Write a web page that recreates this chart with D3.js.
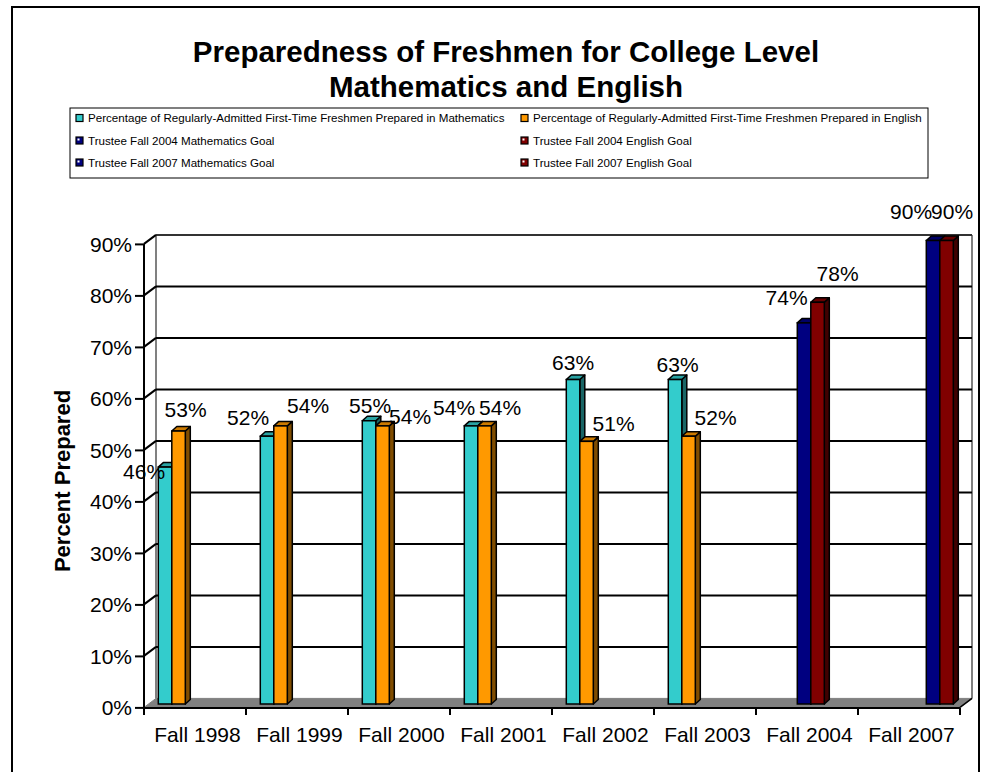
<!DOCTYPE html>
<html>
<head>
<meta charset="utf-8">
<script src="https://cdn.jsdelivr.net/npm/d3@7"></script>
<style>
  html, body { margin: 0; padding: 0; background: #fff; }
  svg { display: block; font-family: "Liberation Sans", Arial, sans-serif; }
</style>
</head>
<body>
<svg id="chart" width="984" height="772"></svg>
<script>
// ---------------- DATA ----------------
const categories = ["Fall 1998", "Fall 1999", "Fall 2000", "Fall 2001", "Fall 2002", "Fall 2003", "Fall 2004", "Fall 2007"];
const seriesNames = [
  "Percentage of Regularly-Admitted First-Time Freshmen Prepared in Mathematics",
  "Percentage of Regularly-Admitted First-Time Freshmen Prepared in English",
  "Trustee Fall 2004 Mathematics Goal",
  "Trustee Fall 2004 English Goal",
  "Trustee Fall 2007 Mathematics Goal",
  "Trustee Fall 2007 English Goal"
];
const mathPrepared    = [46, 52, 55, 54, 63, 63, null, null];
const englishPrepared = [53, 54, 54, 54, 51, 52, null, null];
const goal2004Math    = [null, null, null, null, null, null, 74, null];
const goal2004English = [null, null, null, null, null, null, 78, null];
const goal2007Math    = [null, null, null, null, null, null, null, 90];
const goal2007English = [null, null, null, null, null, null, null, 90];
const yTicks = [0, 10, 20, 30, 40, 50, 60, 70, 80, 90];
const seriesValues = [mathPrepared, englishPrepared, goal2004Math, goal2004English, goal2007Math, goal2007English];

// ---------------- LAYOUT / STYLE ----------------
const colors = ["#33CCCC", "#FF9900", "#000080", "#800000", "#000080", "#800000"];
// label nudges (dx from bar centre, dy from bar top) to mimic the original placement
const labelNudge = [
  [[-21, 12], [-19, -11], [1, -8], [-17, -11], [0, -9.5], [2.5, -7.5], null, null],
  [[7, -14], [27.5, -13], [27.5, -2], [15.5, -11], [27, -10], [27, -11], null, null],
  [null, null, null, null, null, null, [-17.5, -18], null],
  [null, null, null, null, null, null, [20, -21], null],
  [null, null, null, null, null, null, null, [-22, -21.5]],
  [null, null, null, null, null, null, null, [5.5, -21.5]]
];
const font = '"Liberation Sans", Arial, sans-serif';
const svg = d3.select("#chart");

// outer frame
svg.append("rect").attr("x", 12).attr("y", 7).attr("width", 967).attr("height", 820)
  .attr("fill", "#fff").attr("stroke", "#000").attr("stroke-width", 2);

// title
const title = svg.append("text").attr("text-anchor", "middle")
  .attr("font-weight", "bold").attr("font-size", 29.5).attr("fill", "#000");
title.append("tspan").attr("x", 506).attr("y", 62).text("Preparedness of Freshmen for College Level");
title.append("tspan").attr("x", 506).attr("y", 97).text("Mathematics and English");

// legend
svg.append("rect").attr("x", 70).attr("y", 108).attr("width", 858).attr("height", 70)
  .attr("fill", "#fff").attr("stroke", "#000").attr("stroke-width", 1);
const legCols = [76, 521];
const legRows = [118.5, 141, 163];
seriesNames.forEach((name, i) => {
  const cx = legCols[i % 2], cy = legRows[Math.floor(i / 2)];
  const g = svg.append("g");
  g.append("rect").attr("x", cx).attr("y", cy - 4).attr("width", 7).attr("height", 7)
    .attr("fill", colors[i]).attr("stroke", "#000").attr("stroke-width", 1.2);
  if (i >= 2) {
    g.append("rect").attr("x", cx + 1.5).attr("y", cy - 2.5).attr("width", 2).attr("height", 2).attr("fill", "#fff");
  }
  g.append("text").attr("x", cx + 12).attr("y", cy + 3.5).attr("font-size", 11.6).attr("fill", "#000").text(name);
});

// ---------------- SCALES ----------------
const depth = { dx: 12, dy: -9 };           // plot box depth
const barDepth = { dx: 5, dy: -4.5 };       // bar depth
const x0 = d3.scaleBand().domain(categories).range([144, 960]).padding(0);
const x1 = d3.scaleBand().domain(d3.range(seriesNames.length)).range([14.3, 14.3 + 81]).padding(0);
const yBar = d3.scaleLinear().domain([0, 90]).range([704, 240.5]);
const yFront = v => yBar(v) + 3.4;
const yBack = v => yBar(v) - 5.6;
const xFrontL = x0.range()[0], xFrontR = x0.range()[1];
const xBackL = xFrontL + depth.dx, xBackR = xFrontR + depth.dx;

// floor
svg.append("path")
  .attr("d", `M${xFrontL},${yFront(0)} L${xBackL},${yBack(0)} L${xBackR},${yBack(0)} L${xFrontR},${yFront(0)} Z`)
  .attr("fill", "#808080").attr("stroke", "#808080").attr("stroke-width", 1);

// back wall edges
svg.append("line").attr("x1", xBackL).attr("x2", xBackL).attr("y1", yBack(90)).attr("y2", yBack(0))
  .attr("stroke", "#808080").attr("stroke-width", 2);
svg.append("line").attr("x1", xBackR).attr("x2", xBackR).attr("y1", yBack(90)).attr("y2", yBack(0))
  .attr("stroke", "#808080").attr("stroke-width", 2);

// gridlines on back wall + left wall diagonals
yTicks.filter(v => v > 0).forEach(v => {
  svg.append("line").attr("x1", xBackL).attr("x2", xBackR).attr("y1", yBack(v)).attr("y2", yBack(v))
    .attr("stroke", v === 90 ? "#333" : "#000").attr("stroke-width", 2);
  svg.append("line").attr("x1", xFrontL).attr("x2", xBackL).attr("y1", yFront(v)).attr("y2", yBack(v))
    .attr("stroke", "#000").attr("stroke-width", 2);
});
// floor right diagonal
svg.append("line").attr("x1", xFrontR).attr("x2", xBackR).attr("y1", yFront(0)).attr("y2", yBack(0))
  .attr("stroke", "#000").attr("stroke-width", 1.5);

// y axis (front)
const yAxisScale = d3.scaleLinear().domain([0, 90]).range([yFront(0), yFront(90)]);
const yAxis = d3.axisLeft(yAxisScale).tickValues(yTicks).tickSize(9).tickPadding(3)
  .tickFormat(d => d + "%");
const gy = svg.append("g").attr("transform", `translate(${xFrontL},0)`).call(yAxis);
gy.select(".domain").attr("stroke", "#000").attr("stroke-width", 2).attr("d", `M0,${yFront(90)}V${yFront(0)}`);
gy.selectAll(".tick line").attr("stroke", "#000").attr("stroke-width", 2);
gy.selectAll(".tick text").attr("font-size", 21).attr("font-family", font).attr("fill", "#000").attr("dy", "0.35em");

// x axis (front)
const gx = svg.append("g").attr("transform", `translate(0,${yFront(0) + 0.6})`);
gx.append("line").attr("x1", xFrontL).attr("x2", xFrontR).attr("y1", 0).attr("y2", 0)
  .attr("stroke", "#000").attr("stroke-width", 2);
const tickXs = categories.map(c => x0(c)).concat([xFrontR]);
tickXs.forEach(tx => {
  gx.append("line").attr("x1", tx).attr("x2", tx).attr("y1", 0).attr("y2", 7)
    .attr("stroke", "#000").attr("stroke-width", 2);
});
categories.forEach(c => {
  gx.append("text").attr("x", x0(c) + x0.bandwidth() / 2 + 2.5).attr("y", 34)
    .attr("text-anchor", "middle").attr("font-size", 21).attr("fill", "#000").text(c);
});

// y title
svg.append("text").attr("transform", `translate(70,481) rotate(-90)`)
  .attr("text-anchor", "middle").attr("font-weight", "bold").attr("font-size", 22)
  .attr("fill", "#000").text("Percent Prepared");

// ---------------- BARS ----------------
function shade(c, k) {
  const col = d3.rgb(c);
  return d3.rgb(col.r * k, col.g * k, col.b * k).formatHex();
}
const barsG = svg.append("g");
const labelsG = svg.append("g");
categories.forEach((cat, ci) => {
  seriesValues.forEach((vals, si) => {
    const v = vals[ci];
    if (v == null) return;
    const x = x0(cat) + x1(si), w = x1.bandwidth();
    const yt = yBar(v), yb = yBar(0);
    const dx = barDepth.dx, dy = barDepth.dy;
    const g = barsG.append("g");
    // side
    g.append("path").attr("d", `M${x + w},${yb} L${x + w + dx},${yb + dy} L${x + w + dx},${yt + dy} L${x + w},${yt} Z`)
      .attr("fill", shade(colors[si], 0.5)).attr("stroke", "#000").attr("stroke-width", 1.5).attr("stroke-linejoin", "round");
    // top
    g.append("path").attr("d", `M${x},${yt} L${x + dx},${yt + dy} L${x + w + dx},${yt + dy} L${x + w},${yt} Z`)
      .attr("fill", shade(colors[si], 0.8)).attr("stroke", "#000").attr("stroke-width", 1.5).attr("stroke-linejoin", "round");
    // front
    g.append("rect").attr("x", x).attr("y", yt).attr("width", w).attr("height", yb - yt)
      .attr("fill", colors[si]).attr("stroke", "#000").attr("stroke-width", 1.5);
    const nd = labelNudge[si][ci] || [0, -10];
    labelsG.append("text").attr("x", x + w / 2 + nd[0]).attr("y", yt + nd[1])
      .attr("text-anchor", "middle").attr("font-size", 21).attr("fill", "#000").text(v + "%");
  });
});
</script>
</body>
</html>
